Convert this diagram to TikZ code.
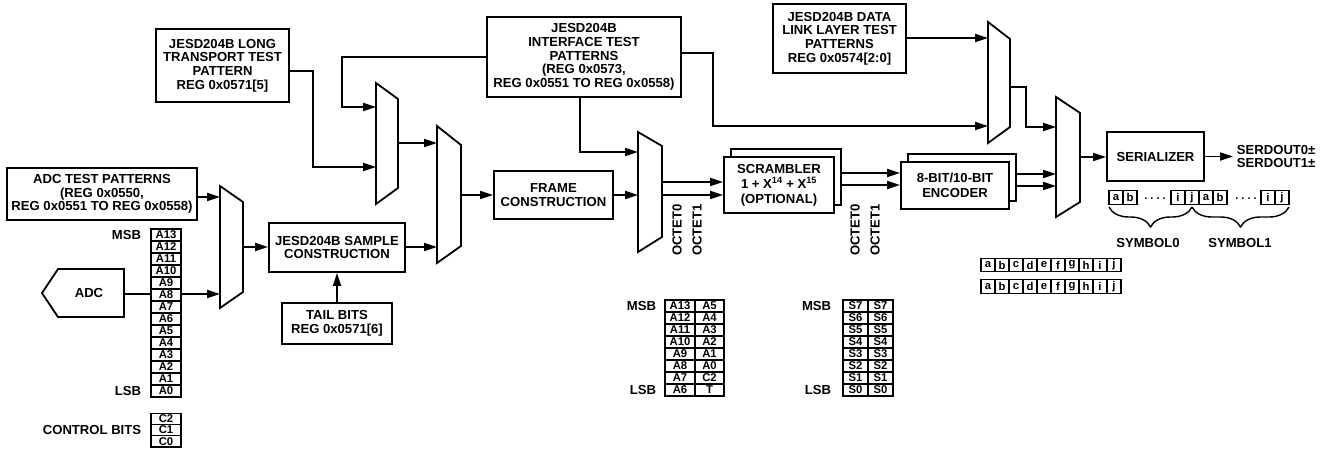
\documentclass[tikz,border=0pt]{standalone}
\usepackage{fontspec}
\setmainfont{Liberation Sans}
\usetikzlibrary{arrows.meta,decorations.pathreplacing}
\begin{document}
\begin{tikzpicture}[x=1pt,y=-1pt,line width=1.8pt,line join=miter,
 lbl/.style={font=\bfseries\fontsize{13.1}{13.7}\selectfont, inner sep=0pt, align=center},
 box/.style={lbl, draw, line width=1.8pt, fill=white},
 arr/.style={-{Triangle[length=13pt,width=8pt]}, line width=1.8pt},
 mux/.style={draw, line width=1.8pt},
 reg/.style={draw, line width=1.1pt, fill=white, inner sep=0pt, minimum height=12pt, font=\bfseries\fontsize{11.3}{11.3}\selectfont},
 lc/.style={draw, line width=1.1pt, inner sep=0pt, minimum width=14pt, minimum height=13.5pt, font=\bfseries\fontsize{11.3}{11.3}\selectfont},
 dots/.style={lbl, font=\bfseries\fontsize{11}{11}\selectfont},
 brc/.style={line width=1.4pt, decorate, decoration={brace, mirror, amplitude=20pt}},
]
\useasboundingbox (0,0) rectangle (1330,448);

% ---------- boxes ----------
\node[box, minimum width=190, minimum height=52] (adctp) at (102,194) {ADC TEST PATTERNS\\(REG 0x0550,\\REG 0x0551 TO REG 0x0558)};
\node[box, minimum width=133, minimum height=73] (ltp) at (222.5,65.5) {JESD204B LONG\\TRANSPORT TEST\\PATTERN\\REG 0x0571[5]};
\node[box, minimum width=136, minimum height=49] (sample) at (337,247.5) {JESD204B SAMPLE\\CONSTRUCTION};
\node[box, minimum width=110, minimum height=41] (tail) at (337,323.5) {TAIL BITS\\REG 0x0571[6]};
\node[box, minimum width=194, minimum height=80] (itp) at (584,57) {JESD204B\\INTERFACE TEST\\PATTERNS\\(REG 0x0573,\\REG 0x0551 TO REG 0x0558)};
\node[box, minimum width=119, minimum height=48] (frame) at (553.5,195) {FRAME\\CONSTRUCTION};
\node[box, minimum width=133, minimum height=69] (dll) at (839.5,38.5) {JESD204B DATA\\LINK LAYER TEST\\PATTERNS\\REG 0x0574[2:0]};
\node[box, minimum width=110, minimum height=56] (scrb) at (786,177) {};
\node[box, minimum width=110, minimum height=56] (scr) at (779,185) {SCRAMBLER\\[1.5pt]1 + X\textsuperscript{14} + X\textsuperscript{15}\\[1.5pt](OPTIONAL)};
\node[box, minimum width=108, minimum height=47] (encb) at (962,177.5) {};
\node[box, minimum width=108, minimum height=47] (enc) at (955,185.5) {8-BIT/10-BIT\\[1.5pt]ENCODER};
\node[box, minimum width=97, minimum height=49] (ser) at (1155.5,156.5) {SERIALIZER};

% ---------- ADC ----------
\draw (124,269) -- (58,269) -- (42,293) -- (58,317) -- (124,317) -- cycle;
\node[lbl] (adc) at (89,293) {ADC};
\coordinate (adcR) at (124,294);

% ---------- muxes ----------
\draw[mux] (220,186) -- (243,202) -- (243,292) -- (220,308) -- cycle;
\coordinate (m1i1) at (220,197); \coordinate (m1i2) at (220,294); \coordinate (m1o) at (243,247);
\draw[mux] (376,83) -- (398,99) -- (398,188) -- (376,204) -- cycle;
\coordinate (m2i1) at (376,107); \coordinate (m2i2) at (376,167); \coordinate (m2o) at (398,143);
\draw[mux] (437,126) -- (461,145) -- (461,246) -- (437,263) -- cycle;
\coordinate (m3i1) at (437,143); \coordinate (m3i2) at (437,247); \coordinate (m3o) at (461,195);
\draw[mux] (638,132) -- (662,146) -- (662,237) -- (638,252) -- cycle;
\coordinate (m4i1) at (638,152); \coordinate (m4i2) at (638,195); \coordinate (m4o1) at (662,182); \coordinate (m4o2) at (662,195);
\draw[mux] (988,22) -- (1010,39) -- (1010,127) -- (988,143) -- cycle;
\coordinate (m5i1) at (988,38); \coordinate (m5i2) at (988,126); \coordinate (m5o) at (1010,87);
\draw[mux] (1056,97) -- (1080,113) -- (1080,202) -- (1056,217) -- cycle;
\coordinate (m6i1) at (1056,127); \coordinate (m6i2) at (1056,174); \coordinate (m6i3) at (1056,186); \coordinate (m6o) at (1080,157);

% ---------- connectors ----------
\draw[arr] (adctp.east |- m1i1) -- (m1i1);
\draw[arr] (adcR) -- (m1i2);
\draw[arr] (m1o) -- (sample.west |- m1o);
\draw[arr] (tail.north) -- (sample.south);
\draw[arr] ([yshift=-5.5pt]ltp.east) -- ++(23,0) |- (m2i2);
\draw[arr] (itp.west) -- ++(-144,0) |- (m2i1);
\draw[arr] (m2o) -- (m3i1);
\draw[arr] (sample.east |- m3i2) -- (m3i2);
\draw[arr] (m3o) -- (frame.west |- m3o);
\draw[arr] (frame.east |- m4i2) -- (m4i2);
\draw[arr] ([xshift=-4pt]itp.south) |- (m4i1);
\draw[arr] (m4o1) -- (scr.west |- m4o1);
\draw[arr] (m4o2) -- (scr.west |- m4o2);
\draw[arr] ([yshift=4pt]itp.east) -- ++(31,0) |- (m5i2);
\draw[arr] (dll.east |- m5i1) -- (m5i1);
\coordinate (s1) at ([yshift=4pt]scrb.east);
\coordinate (s2) at ([yshift=-8pt]scrb.east);
\draw[arr] (s1) -- (enc.west |- s1);
\draw[arr] (s2) -- (enc.west |- s2);
\draw[arr] (encb.east |- m6i2) -- (m6i2);
\draw[arr] (encb.east |- m6i3) -- (m6i3);
\draw[arr] (m5o) -- ++(16,0) |- (m6i1);
\draw[arr] (m6o) -- (ser.west |- m6o);
\coordinate (serout) at (1233,156.5);
\draw[arr] (ser.east) -- (serout);
\node[lbl, anchor=west, align=left, font=\bfseries\fontsize{13.1}{12.8}\selectfont] (sd) at (1236,156.5) {SERDOUT0±\\SERDOUT1±};

% ---------- register column ----------
\foreach \t [count=\i from 0] in {A13,A12,A11,A10,A9,A8,A7,A6,A5,A4,A3,A2,A1,A0}
  \node[reg, minimum width=30] (r\i) at (166,235+12*\i) {\t};
\node[lbl, anchor=east] (msb0) at (142,235) {MSB};
\node[lbl, anchor=east] (lsb0) at (142,391) {LSB};
\foreach \t [count=\i from 0] in {C2,C1,C0}
  \node[reg, minimum width=30, minimum height=11.3] (c\i) at (166,418.7+11.3*\i) {\t};
\node[lbl, anchor=east] (cb) at (142,430) {CONTROL BITS};

% ---------- table 1 ----------
\foreach \a/\b [count=\i from 0] in {A13/A5,A12/A4,A11/A3,A10/A2,A9/A1,A8/A0,A7/C2,A6/T} {
  \node[reg, minimum width=30] (ta\i) at (680,306+12*\i) {\a};
  \node[reg, minimum width=29] (tb\i) at (709.5,306+12*\i) {\b};
}
\node[lbl, anchor=east] (msb1) at (657,306) {MSB};
\node[lbl, anchor=east] (lsb1) at (657,390) {LSB};

% ---------- table 2 ----------
\foreach \a [count=\i from 0] in {S7,S6,S5,S4,S3,S2,S1,S0} {
  \node[reg, minimum width=25] (sa\i) at (855.5,306+12*\i) {\a};
  \node[reg, minimum width=25] (sb\i) at (880.5,306+12*\i) {\a};
}
\node[lbl, anchor=east] (msb2) at (832,306) {MSB};
\node[lbl, anchor=east] (lsb2) at (832,390) {LSB};

% ---------- octet labels ----------
\node[lbl, rotate=90] (o0a) at (677,230) {OCTET0};
\node[lbl, rotate=90] (o1a) at (697,230) {OCTET1};
\node[lbl, rotate=90] (o0b) at (855,230) {OCTET0};
\node[lbl, rotate=90] (o1b) at (875,230) {OCTET1};

% ---------- 10-bit rows ----------
\foreach \l [count=\i from 0] in {a,b,c,d,e,f,g,h,i,j} {
  \node[lc] (ra\i) at (988+14*\i,265) {\l};
  \node[lc] (rb\i) at (988+14*\i,286.5) {\l};
}

% ---------- symbols ----------
\node[lc] (y1) at (1116,197.5) {a};
\node[lc] (y2) at (1130,197.5) {b};
\node[dots] (yd1) at (1155,199) {.\hspace{3pt}.\hspace{3pt}.\hspace{3pt}.};
\node[lc] (y3) at (1178,197.5) {i};
\node[lc] (y4) at (1192,197.5) {j};
\node[lc] (y5) at (1206,197.5) {a};
\node[lc] (y6) at (1220,197.5) {b};
\node[dots] (yd2) at (1246,199) {.\hspace{3pt}.\hspace{3pt}.\hspace{3pt}.};
\node[lc] (y7) at (1268,197.5) {i};
\node[lc] (y8) at (1282,197.5) {j};
\draw[brc] (1109,207) -- (1192,207);
\draw[brc] (1192,207) -- (1289,207);
\node[lbl] (sym0) at (1148,243) {SYMBOL0};
\node[lbl] (sym1) at (1240,243) {SYMBOL1};
\end{tikzpicture}
\end{document}
